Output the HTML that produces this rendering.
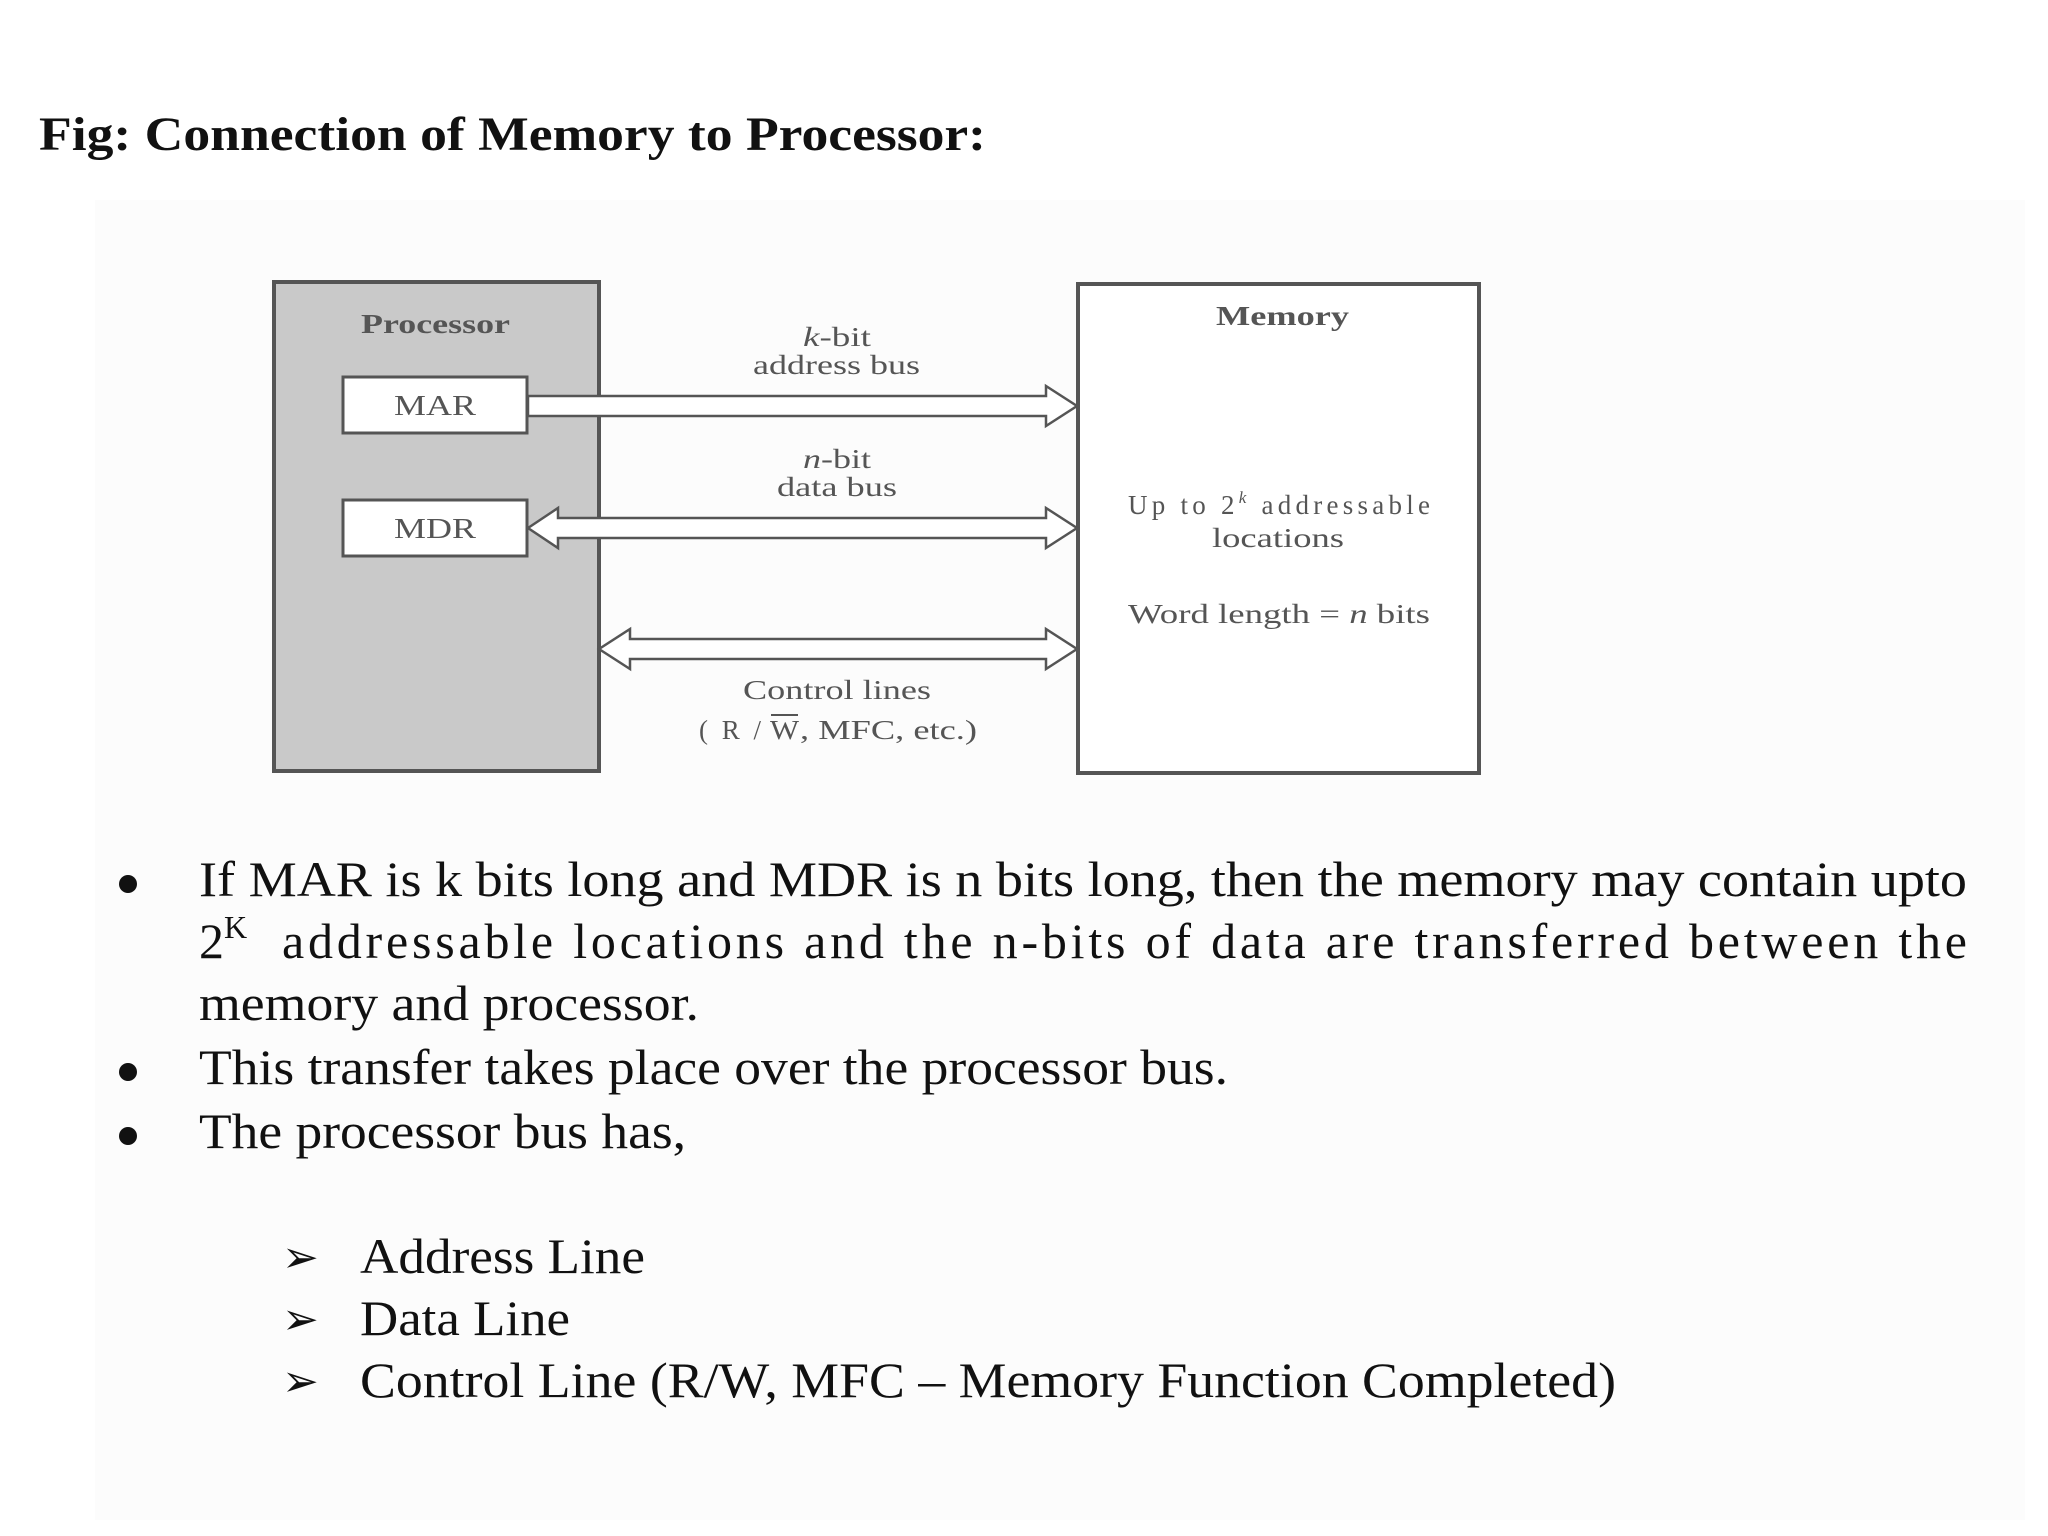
<!DOCTYPE html>
<html><head><meta charset="utf-8"><style>
html,body{margin:0;padding:0;background:#fff;}
body{width:2048px;height:1536px;overflow:hidden;position:relative;}
svg{position:absolute;left:0;top:0;}
</style></head><body>
<svg width="2048" height="1536" viewBox="0 0 2048 1536" xmlns="http://www.w3.org/2000/svg">
<rect x="95" y="200" width="1930" height="1320" fill="#fcfcfc"/>
<text x="39" y="150" font-family="Liberation Serif, serif" font-weight="bold" font-size="48" fill="#111" textLength="947" lengthAdjust="spacingAndGlyphs">Fig: Connection of Memory to Processor:</text>
<!-- Processor -->
<rect x="274" y="282" width="325" height="489" fill="#c9c9c9" stroke="#555" stroke-width="4"/>
<text x="361" y="333" font-family="Liberation Serif, serif" font-weight="bold" font-size="27" fill="#555" textLength="149" lengthAdjust="spacingAndGlyphs">Processor</text>
<rect x="343" y="377" width="184" height="56" fill="#fff" stroke="#555" stroke-width="3"/>
<text x="394" y="415" font-family="Liberation Serif, serif" font-size="28" fill="#555" textLength="82" lengthAdjust="spacingAndGlyphs">MAR</text>
<rect x="343" y="500" width="184" height="56" fill="#fff" stroke="#555" stroke-width="3"/>
<text x="394" y="538" font-family="Liberation Serif, serif" font-size="28" fill="#555" textLength="82" lengthAdjust="spacingAndGlyphs">MDR</text>
<!-- Memory -->
<rect x="1078" y="284" width="401" height="489" fill="#fff" stroke="#555" stroke-width="4"/>
<text x="1216" y="325" font-family="Liberation Serif, serif" font-weight="bold" font-size="27" fill="#555" textLength="133" lengthAdjust="spacingAndGlyphs">Memory</text>
<text x="1128" y="514" font-family="Liberation Serif, serif" font-size="27" fill="#555" textLength="302" lengthAdjust="spacing">Up to 2<tspan font-size="17" dy="-11" font-style="italic">k</tspan><tspan dy="11"> addressable</tspan></text>
<text x="1212" y="547" font-family="Liberation Serif, serif" font-size="27" fill="#555" textLength="132" lengthAdjust="spacingAndGlyphs">locations</text>
<text x="1128" y="623" font-family="Liberation Serif, serif" font-size="27" fill="#555" textLength="302" lengthAdjust="spacingAndGlyphs">Word length = <tspan font-style="italic">n</tspan> bits</text>
<!-- arrows -->
<g fill="#fff" stroke="#555" stroke-width="2.5">
<polygon points="528,396 1046,396 1046,386 1077,406 1046,426 1046,416 528,416"/>
<polygon points="528,528 558,508 558,518 1046,518 1046,508 1077,528 1046,548 1046,538 558,538 558,548"/>
<polygon points="599,649 630,629 630,639 1046,639 1046,629 1077,649 1046,669 1046,659 630,659 630,669"/>
</g>
<g font-family="Liberation Serif, serif" font-size="27" fill="#555">
<text x="803" y="346" textLength="68" lengthAdjust="spacingAndGlyphs"><tspan font-style="italic">k</tspan>-bit</text>
<text x="753" y="374" textLength="167" lengthAdjust="spacingAndGlyphs">address bus</text>
<text x="803" y="468" textLength="68" lengthAdjust="spacingAndGlyphs"><tspan font-style="italic">n</tspan>-bit</text>
<text x="777" y="496" textLength="120" lengthAdjust="spacingAndGlyphs">data bus</text>
<text x="743" y="699" textLength="188" lengthAdjust="spacingAndGlyphs">Control lines</text>
<text x="699" y="739" textLength="62" lengthAdjust="spacing">( R /</text>
<text x="770" y="739" textLength="29" lengthAdjust="spacingAndGlyphs">W</text>
<text x="800" y="739" textLength="177" lengthAdjust="spacingAndGlyphs">, MFC, etc.)</text>
</g>
<line x1="771" y1="715" x2="798" y2="715" stroke="#555" stroke-width="2"/>
<!-- bullets -->
<g font-family="Liberation Serif, serif" font-size="50" fill="#111">
<circle cx="128" cy="884" r="9"/>
<circle cx="128" cy="1072" r="9"/>
<circle cx="128" cy="1136" r="9"/>
<text x="199" y="896" textLength="1768" lengthAdjust="spacingAndGlyphs">If MAR is k bits long and MDR is n bits long, then the memory may contain upto</text>
<text x="199" y="958">2<tspan font-size="32" dy="-20">K</tspan></text>
<text x="282" y="958" textLength="1685" lengthAdjust="spacing">addressable locations and the n-bits of data are transferred between the</text>
<text x="199" y="1020" textLength="500" lengthAdjust="spacingAndGlyphs">memory and processor.</text>
<text x="199" y="1084" textLength="1029" lengthAdjust="spacingAndGlyphs">This transfer takes place over the processor bus.</text>
<text x="199" y="1148" textLength="487" lengthAdjust="spacingAndGlyphs">The processor bus has,</text>
<text x="282" y="1272" font-family="DejaVu Sans, sans-serif" font-size="44" font-weight="bold">➢</text>
<text x="282" y="1334" font-family="DejaVu Sans, sans-serif" font-size="44" font-weight="bold">➢</text>
<text x="282" y="1396" font-family="DejaVu Sans, sans-serif" font-size="44" font-weight="bold">➢</text>
<text x="360" y="1273" textLength="285" lengthAdjust="spacingAndGlyphs">Address Line</text>
<text x="360" y="1335" textLength="210" lengthAdjust="spacingAndGlyphs">Data Line</text>
<text x="360" y="1397" textLength="1256" lengthAdjust="spacingAndGlyphs">Control Line (R/W, MFC – Memory Function Completed)</text>
</g>
</svg>
</body></html>
